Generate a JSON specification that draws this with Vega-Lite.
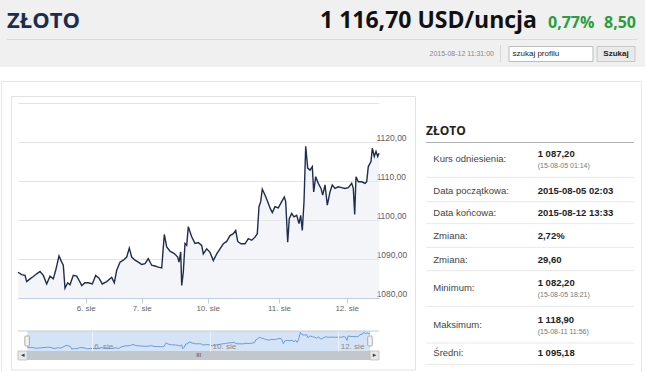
{
  "$schema": "https://vega.github.io/schema/vega-lite/v6.json",
  "padding": 0,
  "background": "white",
  "bounds": "flush",
  "spacing": 33,
  "config": {"view": {"stroke": null}, "font": "Liberation Sans"},
  "datasets": {
    "gold": [
      {"n":0,"v":1086.6},{"n":3.7,"v":1086.0},{"n":7,"v":1085.8},{"n":8.7,"v":1084.2},{"n":12,"v":1084.9},{"n":15.3,"v":1085.5},{"n":18.7,"v":1086.2},{"n":22,"v":1086.8},{"n":25.3,"v":1085.8},{"n":28.7,"v":1083.6},{"n":32,"v":1085.6},{"n":35.3,"v":1084.9},{"n":37.7,"v":1087.1},{"n":41,"v":1090.8},{"n":43.7,"v":1089.2},{"n":45.3,"v":1088.4},{"n":47,"v":1082.5},{"n":49.7,"v":1083.9},{"n":52,"v":1083.4},{"n":55.3,"v":1085.8},{"n":58.7,"v":1085.6},{"n":62,"v":1084.1},{"n":63.7,"v":1083.2},{"n":67,"v":1083.9},{"n":70.3,"v":1083.9},{"n":74.3,"v":1083.6},{"n":77.7,"v":1085.8},{"n":81,"v":1085.1},{"n":84.3,"v":1083.6},{"n":88.7,"v":1084.2},{"n":93.7,"v":1085.3},{"n":96.3,"v":1083.9},{"n":98.7,"v":1087.1},{"n":102,"v":1089.2},{"n":105.3,"v":1089.7},{"n":108.7,"v":1090.5},{"n":111.3,"v":1092.8},{"n":113.7,"v":1090.5},{"n":117,"v":1089.7},{"n":120.3,"v":1089.2},{"n":123.7,"v":1088.6},{"n":127,"v":1088.8},{"n":130.3,"v":1090.1},{"n":133.7,"v":1088.4},{"n":137,"v":1088.2},{"n":140.3,"v":1087.9},{"n":143.7,"v":1087.7},{"n":146.3,"v":1096.3},{"n":148.7,"v":1093.1},{"n":152,"v":1092.0},{"n":156.3,"v":1091.4},{"n":159.7,"v":1090.5},{"n":161,"v":1089.2},{"n":162.7,"v":1091.8},{"n":163.7,"v":1083.2},{"n":165.3,"v":1086.6},{"n":167,"v":1094.0},{"n":168.7,"v":1093.5},{"n":170.3,"v":1098.3},{"n":173.7,"v":1095.7},{"n":177,"v":1094.0},{"n":180.3,"v":1094.2},{"n":183.7,"v":1093.5},{"n":185.3,"v":1091.3},{"n":188.7,"v":1092.6},{"n":192,"v":1091.7},{"n":195.3,"v":1089.6},{"n":198.7,"v":1091.3},{"n":202,"v":1092.6},{"n":205.3,"v":1093.9},{"n":208.7,"v":1094.5},{"n":212,"v":1096.0},{"n":215.3,"v":1096.5},{"n":217.7,"v":1097.3},{"n":219.7,"v":1094.5},{"n":223,"v":1093.9},{"n":227,"v":1093.9},{"n":230.3,"v":1095.2},{"n":233.7,"v":1094.8},{"n":237,"v":1095.6},{"n":239.3,"v":1096.5},{"n":241,"v":1103.4},{"n":242.7,"v":1104.7},{"n":244.3,"v":1107.9},{"n":247,"v":1106.4},{"n":249.7,"v":1104.7},{"n":252,"v":1103.1},{"n":254.3,"v":1101.9},{"n":257,"v":1103.4},{"n":260.3,"v":1103.1},{"n":263.7,"v":1104.7},{"n":266.3,"v":1105.9},{"n":267.7,"v":1104.7},{"n":269.7,"v":1094.3},{"n":271.3,"v":1100.4},{"n":273.7,"v":1101.7},{"n":276,"v":1100.8},{"n":278.7,"v":1101.2},{"n":281,"v":1099.1},{"n":282.7,"v":1101.2},{"n":284.3,"v":1097.3},{"n":286,"v":1104.7},{"n":287.7,"v":1118.9},{"n":289.7,"v":1113.3},{"n":292,"v":1112.8},{"n":294.3,"v":1113.7},{"n":295.7,"v":1107.2},{"n":297.7,"v":1111.1},{"n":300.3,"v":1109.4},{"n":303,"v":1108.1},{"n":304.7,"v":1106.4},{"n":307,"v":1109.0},{"n":309.3,"v":1103.8},{"n":312,"v":1107.2},{"n":314.3,"v":1109.0},{"n":317,"v":1108.1},{"n":320.3,"v":1108.5},{"n":323.7,"v":1108.3},{"n":327,"v":1108.1},{"n":330.3,"v":1108.3},{"n":333.7,"v":1109.4},{"n":335.3,"v":1108.1},{"n":336.7,"v":1101.4},{"n":338,"v":1111.1},{"n":340.3,"v":1109.8},{"n":343.7,"v":1109.8},{"n":347,"v":1109.4},{"n":348.7,"v":1109.8},{"n":350.3,"v":1113.7},{"n":353,"v":1115.0},{"n":354.3,"v":1118.4},{"n":356.3,"v":1116.3},{"n":358,"v":1117.6},{"n":359.7,"v":1116.3},{"n":361,"v":1117.1}
    ]
  },
  "vconcat": [
    {
      "width": 361,
      "height": 70,
      "data": {"values": [{}]},
      "resolve": {"scale": {"x": "independent", "y": "independent"}},
      "layer": [
        {
          "layer": [
            {
              "mark": {"type": "rect", "fill": "#f0f0f0"},
              "encoding": {
                "x": {"datum": 0, "type": "quantitative", "scale": {"domain": [0,1,2,3,4,5,6,7,8,9,10,11,12,13,14,15,16], "range": [-18,627,-11,519,530,618,476,494.5,598,491,575,579,617,482.5,619,-16.5,623.5], "nice": false, "zero": false}, "axis": null},
                "x2": {"datum": 1},
                "y": {"datum": 2, "type": "quantitative", "scale": {"domain": [0,1,2,3,4,5,6,7,8,9,10], "range": [28,54,0,67,46.5,61.5,39.5,45,62,81.5,430], "nice": false, "zero": false}, "axis": null},
                "y2": {"datum": 3}
              }
            },
            {
              "mark": {"type": "rule", "stroke": "#dadada", "strokeWidth": 1},
              "encoding": {"x": {"datum": 2, "type": "quantitative"}, "x2": {"datum": 14}, "y": {"datum": 6, "type": "quantitative"}}
            },
            {
              "mark": {"type": "rect", "fillOpacity": 0, "stroke": "#e6e6e6", "strokeWidth": 1},
              "encoding": {"x": {"datum": 15, "type": "quantitative"}, "x2": {"datum": 16}, "y": {"datum": 9, "type": "quantitative"}, "y2": {"datum": 10}}
            },
            {
              "data": {"values": [{"t": "ZŁOTO"}]},
              "mark": {"type": "text", "align": "left", "baseline": "alphabetic", "font": "Open Sans", "fontWeight": "bold", "fontSize": 22, "fill": "#1d2d4f"},
              "encoding": {"x": {"datum": 2, "type": "quantitative"}, "y": {"datum": 0, "type": "quantitative"}, "text": {"field": "t"}}
            },
            {
              "data": {"values": [{"t": "1 116,70 USD/uncja"}]},
              "mark": {"type": "text", "align": "right", "baseline": "alphabetic", "font": "Open Sans", "fontWeight": "bold", "fontSize": 23, "fill": "#111111"},
              "encoding": {"x": {"datum": 3, "type": "quantitative"}, "y": {"datum": 0, "type": "quantitative"}, "text": {"field": "t"}}
            },
            {
              "data": {"values": [{"t": "0,77%"}]},
              "mark": {"type": "text", "align": "left", "baseline": "alphabetic", "font": "Open Sans", "fontWeight": "bold", "fontSize": 16, "fill": "#2a9d3f"},
              "encoding": {"x": {"datum": 4, "type": "quantitative"}, "y": {"datum": 0, "type": "quantitative"}, "text": {"field": "t"}}
            },
            {
              "data": {"values": [{"t": "8,50"}]},
              "mark": {"type": "text", "align": "right", "baseline": "alphabetic", "font": "Open Sans", "fontWeight": "bold", "fontSize": 16, "fill": "#2a9d3f"},
              "encoding": {"x": {"datum": 5, "type": "quantitative"}, "y": {"datum": 0, "type": "quantitative"}, "text": {"field": "t"}}
            },
            {
              "data": {"values": [{"t": "2015-08-12 11:31:00"}]},
              "mark": {"type": "text", "align": "right", "baseline": "middle", "fontSize": 7, "fill": "#888888"},
              "encoding": {"x": {"datum": 6, "type": "quantitative"}, "y": {"datum": 1, "type": "quantitative"}, "text": {"field": "t"}}
            },
            {
              "mark": {"type": "rule", "stroke": "#d8d8d8", "strokeWidth": 1},
              "encoding": {"x": {"datum": 13, "type": "quantitative"}, "y": {"datum": 7, "type": "quantitative"}, "y2": {"datum": 8}}
            },
            {
              "mark": {"type": "rect", "fill": "#ffffff", "stroke": "#bbbbbb", "strokeWidth": 1},
              "encoding": {"x": {"datum": 9, "type": "quantitative"}, "x2": {"datum": 10}, "y": {"datum": 4, "type": "quantitative"}, "y2": {"datum": 5}}
            },
            {
              "data": {"values": [{"t": "szukaj profilu"}]},
              "mark": {"type": "text", "align": "left", "baseline": "middle", "fontSize": 8, "fill": "#222222"},
              "encoding": {"x": {"datum": 7, "type": "quantitative"}, "y": {"datum": 1, "type": "quantitative"}, "text": {"field": "t"}}
            },
            {
              "mark": {"type": "rect", "fill": "#e9e9e9", "stroke": "#c8c8c8", "strokeWidth": 1},
              "encoding": {"x": {"datum": 11, "type": "quantitative"}, "x2": {"datum": 12}, "y": {"datum": 4, "type": "quantitative"}, "y2": {"datum": 5}}
            },
            {
              "data": {"values": [{"t": "Szukaj"}]},
              "mark": {"type": "text", "align": "center", "baseline": "middle", "fontSize": 8, "fontWeight": "bold", "fill": "#222222"},
              "encoding": {"x": {"datum": 8, "type": "quantitative"}, "y": {"datum": 1, "type": "quantitative"}, "text": {"field": "t"}}
            }
          ]
        },
        {
          "data": {"values": [
            {"row": 1, "label": "Kurs odniesienia:", "value": "1 087,20", "sub": "(15-08-05 01:14)"},
            {"row": 2, "label": "Data początkowa:", "value": "2015-08-05 02:03"},
            {"row": 3, "label": "Data końcowa:", "value": "2015-08-12 13:33"},
            {"row": 4, "label": "Zmiana:", "value": "2,72%"},
            {"row": 5, "label": "Zmiana:", "value": "29,60"},
            {"row": 6, "label": "Minimum:", "value": "1 082,20", "sub": "(15-08-05 18:21)"},
            {"row": 7, "label": "Maksimum:", "value": "1 118,90", "sub": "(15-08-11 11:56)"},
            {"row": 8, "label": "Średni:", "value": "1 095,18"}
          ]},
          "layer": [
            {
              "mark": {"type": "text", "align": "left", "baseline": "middle", "fontSize": 9.5, "fill": "#444444"},
              "encoding": {
                "x": {"datum": 2, "type": "quantitative", "scale": {"domain": [0,1,2,3,4,5], "range": [408,616,415.3,519.7,-6.5,397.5], "nice": false, "zero": false}, "axis": null},
                "y": {"field": "row", "type": "quantitative", "scale": {"domain": [-1,0,1,2,3,4,5,6,7,8,9], "range": [96.5,130.7,159.3,190.7,212.7,236.3,259.7,288.3,325,353.3,370], "nice": false, "zero": false}, "axis": null},
                "text": {"field": "label"}
              }
            },
            {
              "transform": [{"filter": "!datum.sub"}],
              "mark": {"type": "text", "align": "left", "baseline": "middle", "fontSize": 9.5, "fontWeight": "bold", "fill": "#222222"},
              "encoding": {"x": {"datum": 3, "type": "quantitative"}, "y": {"field": "row", "type": "quantitative"}, "text": {"field": "value"}}
            },
            {
              "transform": [{"filter": "datum.sub"}],
              "mark": {"type": "text", "align": "left", "baseline": "middle", "fontSize": 9.5, "fontWeight": "bold", "fill": "#222222", "dy": -5},
              "encoding": {"x": {"datum": 3, "type": "quantitative"}, "y": {"field": "row", "type": "quantitative"}, "text": {"field": "value"}}
            },
            {
              "transform": [{"filter": "datum.sub"}],
              "mark": {"type": "text", "align": "left", "baseline": "middle", "fontSize": 7, "fill": "#777777", "dy": 7},
              "encoding": {"x": {"datum": 3, "type": "quantitative"}, "y": {"field": "row", "type": "quantitative"}, "text": {"field": "sub"}}
            },
            {
              "transform": [{"filter": "!datum.sub"}],
              "mark": {"type": "rule", "stroke": "#e8e8e8", "strokeWidth": 1, "yOffset": 11},
              "encoding": {"x": {"datum": 0, "type": "quantitative"}, "x2": {"datum": 1}, "y": {"field": "row", "type": "quantitative"}}
            },
            {
              "transform": [{"filter": "datum.sub"}],
              "mark": {"type": "rule", "stroke": "#e8e8e8", "strokeWidth": 1, "yOffset": 18},
              "encoding": {"x": {"datum": 0, "type": "quantitative"}, "x2": {"datum": 1}, "y": {"field": "row", "type": "quantitative"}}
            },
            {
              "data": {"values": [{"t": "ZŁOTO"}]},
              "mark": {"type": "text", "align": "left", "baseline": "middle", "font": "Open Sans", "fontWeight": "bold", "fontSize": 12, "fill": "#222222"},
              "encoding": {"x": {"datum": 0, "type": "quantitative"}, "y": {"datum": 0, "type": "quantitative"}, "text": {"field": "t"}}
            },
            {
              "data": {"values": [{}]},
              "mark": {"type": "rule", "stroke": "#b0b0b0", "strokeWidth": 1, "yOffset": 11.8},
              "encoding": {"x": {"datum": 0, "type": "quantitative"}, "x2": {"datum": 1}, "y": {"datum": 0, "type": "quantitative"}}
            },
            {
              "data": {"values": [{}]},
              "mark": {"type": "rect", "fillOpacity": 0, "stroke": "#e2e2e2", "strokeWidth": 1},
              "encoding": {"x": {"datum": 4, "type": "quantitative"}, "x2": {"datum": 5}, "y": {"datum": -1, "type": "quantitative"}, "y2": {"datum": 9}}
            }
          ]
        }
      ]
    },
    {
      "width": 361,
      "height": 195,
      "data": {"name": "gold"},
      "encoding": {
        "x": {"field": "n", "type": "quantitative", "scale": {"domain": [0, 361], "nice": false, "zero": false},
          "axis": {"values": [67.7, 123.7, 189.7, 261, 328.7], "labelExpr": "datum.value < 100 ? '6. sie' : datum.value < 150 ? '7. sie' : datum.value < 220 ? '10. sie' : datum.value < 300 ? '11. sie' : '12. sie'", "domainColor": "#c0d0e0", "tickColor": "#c0d0e0", "tickSize": 5, "labelFontSize": 8, "labelColor": "#666666", "labelPadding": 1, "grid": false, "title": null, "labelFlush": false, "labelOverlap": false}},
        "y": {"field": "v", "type": "quantitative", "scale": {"domain": [1080, 1130], "nice": false, "zero": false},
          "axis": {"orient": "right", "values": [1080, 1090, 1100, 1110, 1120, 1130], "labelExpr": "datum.value >= 1130 ? '' : replace(format(datum.value, '.2f'), '.', ',')", "grid": true, "gridColor": "#e3e3e3", "domain": false, "ticks": false, "tickSize": 0, "labelPadding": -3, "labelAlign": "left", "labelBaseline": "middle", "labelOffset": -5, "labelFontSize": 8.5, "labelColor": "#606060", "title": null, "labelOverlap": false, "labelFlush": false}}
      },
      "layer": [
        {
          "mark": {"type": "area", "fill": "#e7ebf2", "fillOpacity": 0.5},
          "encoding": {"y2": {"datum": 1080}}
        },
        {
          "mark": {"type": "line", "stroke": "#1f2d4d", "strokeWidth": 1.4}
        }
      ]
    },
    {
      "width": 361,
      "height": 20,
      "data": {"name": "gold"},
      "layer": [
        {
          "data": {"values": [{}]},
          "mark": {"type": "rect", "fill": "#d5e3f6"},
          "encoding": {
            "x": {"datum": 0, "type": "quantitative", "scale": {"domain": [-9.8, 370.5], "nice": false, "zero": false},
              "axis": {"values": [67.8, 192.5, 327.6], "labelExpr": "datum.value < 100 ? '6. sie' : datum.value < 250 ? '10. sie' : '12. sie'", "grid": true, "gridColor": "#eaf0f8", "domain": false, "ticks": false, "tickSize": 0, "labelPadding": -5, "labelAlign": "left", "labelBaseline": "middle", "labelOffset": 2, "labelFontSize": 8, "labelColor": "#888888", "title": null, "labelFlush": false, "labelOverlap": false, "zindex": 1}},
            "x2": {"datum": 361},
            "y": {"datum": 1121.7, "type": "quantitative", "scale": {"domain": [1078.5, 1121.7], "nice": false, "zero": false}, "axis": null},
            "y2": {"datum": 1078.5}
          }
        },
        {
          "mark": {"type": "line", "stroke": "#6b9bd6", "strokeWidth": 1},
          "encoding": {"x": {"field": "n", "type": "quantitative"}, "y": {"field": "v", "type": "quantitative"}}
        },
        {
          "data": {"values": [{}]},
          "mark": {"type": "rule", "stroke": "#c4ccd6", "strokeWidth": 1},
          "encoding": {"y": {"datum": 1121.7, "type": "quantitative"}}
        },
        {
          "data": {"values": [{}]},
          "mark": {"type": "rect", "fill": "#c2c7cd"},
          "encoding": {"x": {"datum": -9.8, "type": "quantitative"}, "x2": {"datum": 370.5}, "y": {"datum": 1078.5, "type": "quantitative"}, "y2": {"datum": 1059.1}}
        },
        {
          "data": {"values": [{}]},
          "mark": {"type": "rect", "fill": "#e8e8e8", "stroke": "#bbbbbb", "strokeWidth": 0.8},
          "encoding": {"x": {"datum": -9.8, "type": "quantitative"}, "x2": {"datum": 0}, "y": {"datum": 1078.5, "type": "quantitative"}, "y2": {"datum": 1059.1}}
        },
        {
          "data": {"values": [{}]},
          "mark": {"type": "rect", "fill": "#e8e8e8", "stroke": "#bbbbbb", "strokeWidth": 0.8},
          "encoding": {"x": {"datum": 361, "type": "quantitative"}, "x2": {"datum": 370.5}, "y": {"datum": 1078.5, "type": "quantitative"}, "y2": {"datum": 1059.1}}
        },
        {
          "data": {"values": [{"t": "III"}]},
          "mark": {"type": "text", "align": "center", "baseline": "middle", "fontSize": 6, "fill": "#444444"},
          "encoding": {"x": {"datum": 180.5, "type": "quantitative"}, "y": {"datum": 1068.8, "type": "quantitative"}, "text": {"field": "t"}}
        },
        {
          "data": {"values": [{"t": "◂"}]},
          "mark": {"type": "text", "align": "center", "baseline": "middle", "fontSize": 7, "fill": "#444444", "font": "DejaVu Sans"},
          "encoding": {"x": {"datum": -4.9, "type": "quantitative"}, "y": {"datum": 1068.8, "type": "quantitative"}, "text": {"field": "t"}}
        },
        {
          "data": {"values": [{"t": "▸"}]},
          "mark": {"type": "text", "align": "center", "baseline": "middle", "fontSize": 7, "fill": "#444444", "font": "DejaVu Sans"},
          "encoding": {"x": {"datum": 365.7, "type": "quantitative"}, "y": {"datum": 1068.8, "type": "quantitative"}, "text": {"field": "t"}}
        },
        {
          "data": {"values": [{}]},
          "mark": {"type": "rect", "fill": "#f2f2f2", "stroke": "#999999", "strokeWidth": 0.8, "cornerRadius": 1},
          "encoding": {"x": {"datum": -2.6, "type": "quantitative"}, "x2": {"datum": 2.2}, "y": {"datum": 1110.9, "type": "quantitative"}, "y2": {"datum": 1089.3}}
        },
        {
          "data": {"values": [{}]},
          "mark": {"type": "rect", "fill": "#f2f2f2", "stroke": "#999999", "strokeWidth": 0.8, "cornerRadius": 1},
          "encoding": {"x": {"datum": 358.6, "type": "quantitative"}, "x2": {"datum": 363.4}, "y": {"datum": 1110.9, "type": "quantitative"}, "y2": {"datum": 1089.3}}
        }
      ]
    }
  ]
}
